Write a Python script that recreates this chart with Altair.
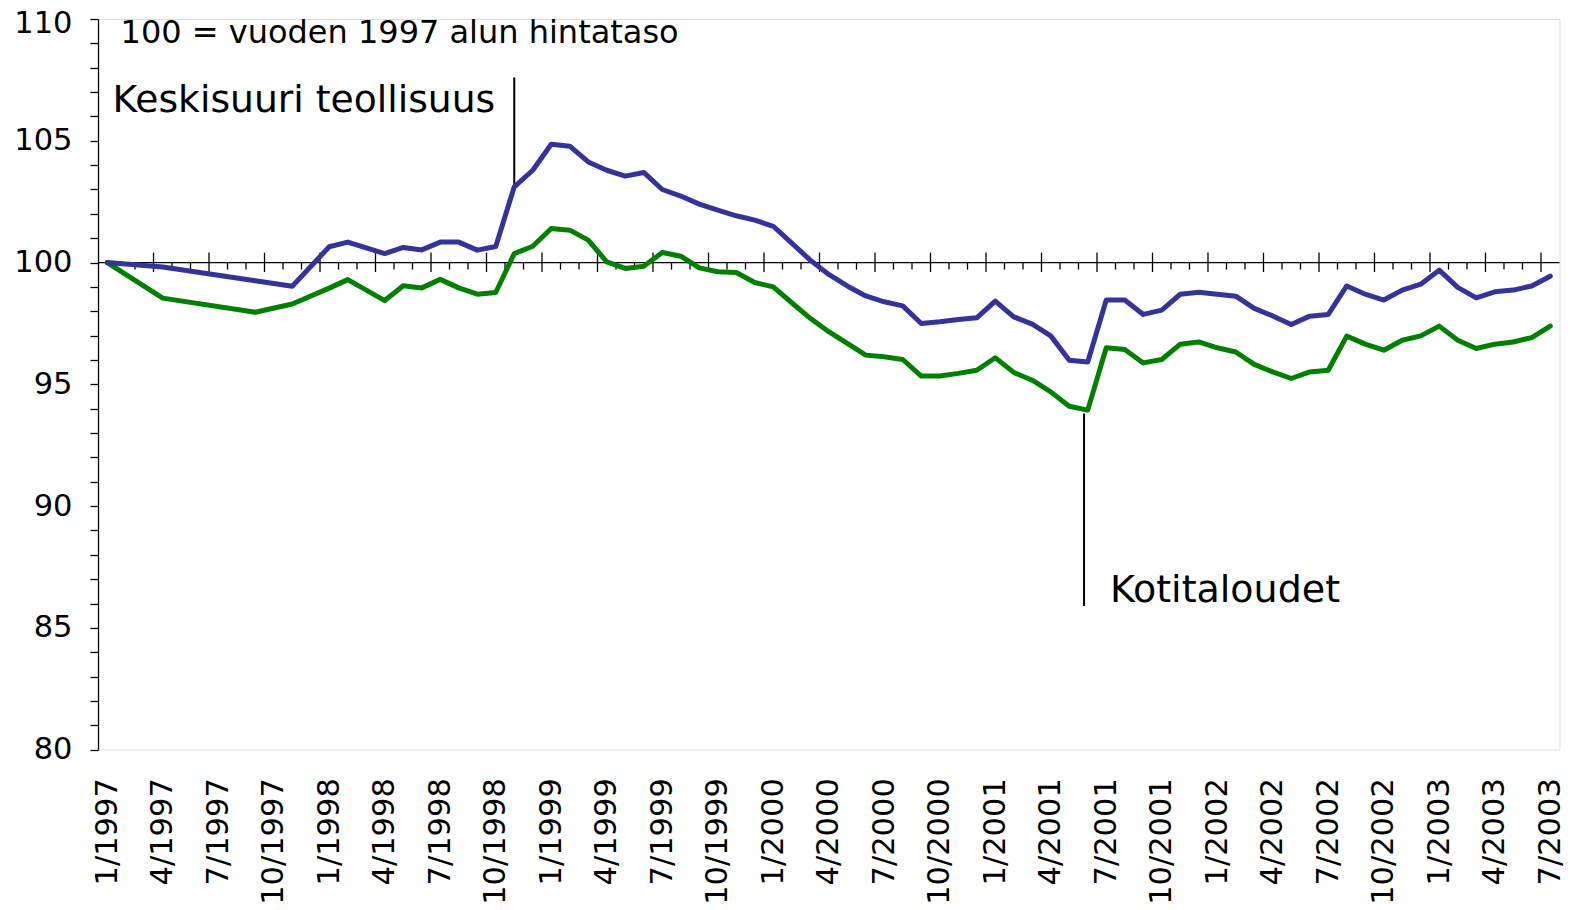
import altair as alt
import pandas as pd

# ---- data ----
point_months = [
    "1/1997", "4/1997", "9/1997", "11/1997", "1/1998", "2/1998",
    "4/1998", "5/1998", "6/1998", "7/1998", "8/1998", "9/1998", "10/1998", "11/1998", "12/1998",
    "1/1999", "2/1999", "3/1999", "4/1999", "5/1999", "6/1999", "7/1999", "8/1999", "9/1999",
    "10/1999", "11/1999", "12/1999",
    "1/2000", "2/2000", "3/2000", "4/2000", "5/2000", "6/2000", "7/2000", "8/2000", "9/2000",
    "10/2000", "11/2000", "12/2000",
    "1/2001", "2/2001", "3/2001", "4/2001", "5/2001", "6/2001", "7/2001", "8/2001", "9/2001",
    "10/2001", "11/2001", "12/2001",
    "1/2002", "2/2002", "3/2002", "4/2002", "5/2002", "6/2002", "7/2002", "8/2002", "9/2002",
    "10/2002", "11/2002", "12/2002",
    "1/2003", "2/2003", "3/2003", "4/2003", "5/2003", "6/2003", "7/2003",
]

teollisuus = [
    100.00, 99.82, 99.25, 99.03, 100.65, 100.84,
    100.37, 100.62, 100.52, 100.84, 100.84, 100.51, 100.66, 103.11, 103.79,
    104.86, 104.78, 104.13, 103.79, 103.55, 103.70, 103.00, 102.73, 102.40,
    102.15, 101.92, 101.74,
    101.49, 100.80, 100.10, 99.51, 99.04, 98.63, 98.39, 98.22, 97.50,
    97.57, 97.66, 97.73,
    98.42, 97.77, 97.47, 96.99, 95.99, 95.92, 98.46, 98.46, 97.87,
    98.05, 98.70, 98.78,
    98.70, 98.62, 98.12, 97.81, 97.46, 97.80, 97.87, 99.04, 98.70,
    98.46, 98.87, 99.11,
    99.69, 98.98, 98.55, 98.80, 98.87, 99.04, 99.44,
]

kotitaloudet = [
    100.00, 98.54, 97.96, 98.30, 98.95, 99.30,
    98.44, 99.05, 98.96, 99.31, 98.96, 98.70, 98.77, 100.37, 100.67,
    101.40, 101.33, 100.92, 100.03, 99.76, 99.85, 100.41, 100.26, 99.78,
    99.62, 99.59, 99.18,
    99.00, 98.35, 97.71, 97.16, 96.68, 96.20, 96.13, 96.02, 95.34,
    95.34, 95.45, 95.58,
    96.09, 95.49, 95.17, 94.69, 94.10, 93.94, 96.50, 96.43, 95.88,
    96.02, 96.65, 96.74,
    96.50, 96.33, 95.82, 95.51, 95.24, 95.51, 95.58, 96.98, 96.65,
    96.40, 96.81, 96.99,
    97.39, 96.81, 96.47, 96.65, 96.74, 96.92, 97.39,
]

tick_labels = [
    "1/1997", "4/1997", "7/1997", "10/1997", "1/1998", "4/1998", "7/1998", "10/1998",
    "1/1999", "4/1999", "7/1999", "10/1999", "1/2000", "4/2000", "7/2000", "10/2000",
    "1/2001", "4/2001", "7/2001", "10/2001", "1/2002", "4/2002", "7/2002", "10/2002",
    "1/2003", "4/2003", "7/2003",
]

# annotations: text, month position, value
note_texts = ["100 = vuoden 1997 alun hintataso", "Keskisuuri teollisuus", "Kotitaloudet"]
note_x = [1.22, 0.78, 54.7]
note_y = [109.0, 106.17, 86.06]
note_size = [32, 37.7, 38]

leader_x = [22.5, 53.3]
leader_y1 = [107.6, 93.8]
leader_y2 = [103.11, 85.9]

FIRST_YEAR = 1997
N_MONTHS = 79
BASE = 100


def month_index(label):
    m, y = label.split("/")
    return (int(y) - FIRST_YEAR) * 12 + (int(m) - 1)


# ---- tables ----
idx = [month_index(m) + 0.5 for m in point_months]
lines_df = pd.DataFrame({
    "x": idx * 2,
    "y": kotitaloudet + teollisuus,
    "sarja": ["Kotitaloudet"] * len(idx) + ["Keskisuuri teollisuus"] * len(idx),
    "order": list(range(len(idx))) * 2,
})

major_df = pd.DataFrame({"x": [month_index(t) for t in tick_labels if month_index(t) > 0],
                         "y": BASE})
major_set = set(major_df["x"])
minor_df = pd.DataFrame({"x": [i for i in range(1, N_MONTHS) if i not in major_set], "y": BASE})
base_df = pd.DataFrame({"x": [0], "x2": [N_MONTHS], "y": [BASE]})
notes_df = pd.DataFrame({"t": note_texts, "x": note_x, "y": note_y, "s": note_size})
leaders_df = pd.DataFrame({"x": leader_x, "y": leader_y1, "y2": leader_y2})

FONT = "DejaVu Sans"
label_js = "[" + ",".join("'" + t + "'" for t in tick_labels) + "]"

xscale = alt.Scale(domain=[0, N_MONTHS], nice=False, zero=False)
yscale = alt.Scale(domain=[80, 110], nice=False, zero=False)

xaxis = alt.Axis(
    values=[month_index(t) + 0.5 for t in tick_labels],
    labelExpr=label_js + "[round((datum.value - 0.5) / 3)]",
    labelAngle=270, labelFont=FONT, labelFontSize=30.5, labelColor="black",
    labelPadding=28, labelOverlap=False, labelFlush=False, labelBound=False,
    ticks=False, tickSize=0, domain=False, grid=False, title=None,
)
yaxis = alt.Axis(
    values=list(range(80, 111)),
    labelExpr="datum.value % 5 == 0 ? datum.label : ''",
    labelFont=FONT, labelFontSize=30.5, labelColor="black", labelPadding=18,
    labelOffset={"condition": {"test": "datum.value >= 110", "value": 5}, "value": 0},
    tickSize=8, tickColor="black", tickWidth=1.3,
    domainColor="black", domainWidth=1.3, grid=False, title=None,
    labelOverlap=False, labelFlush=False,
)

X = alt.X("x:Q", scale=xscale, axis=xaxis)
Y = alt.Y("y:Q", scale=yscale, axis=yaxis)

base_line = alt.Chart(base_df).mark_rule(color="black", strokeWidth=1.3).encode(
    x=X, x2="x2:Q", y=Y)

major_ticks = alt.Chart(major_df).mark_rule(
    color="black", strokeWidth=1.3, yOffset=-10, y2Offset=9.5).encode(
    x=X, y=Y, y2="y:Q")

minor_ticks = alt.Chart(minor_df).mark_rule(
    color="black", strokeWidth=1.3, yOffset=0, y2Offset=7).encode(
    x=X, y=Y, y2="y:Q")

lines = alt.Chart(lines_df).mark_line(
    strokeWidth=5, strokeJoin="round", strokeCap="round").encode(
    x=X, y=Y,
    color=alt.Color("sarja:N",
                    scale=alt.Scale(domain=["Kotitaloudet", "Keskisuuri teollisuus"],
                                    range=["#008000", "#333399"]),
                    legend=None),
    order="order:Q",
)

leaders = alt.Chart(leaders_df).mark_rule(color="black", strokeWidth=2).encode(
    x=X, y=Y, y2="y2:Q")

notes = alt.Chart(notes_df).mark_text(
    align="left", baseline="alphabetic", font=FONT, color="black").encode(
    x=X, y=Y, text="t:N", size=alt.Size("s:Q", scale=None, legend=None))

chart = alt.layer(base_line, major_ticks, minor_ticks, leaders, lines, notes).properties(
    width=1461.5, height=730.7,
    autosize=alt.AutoSizeParams(type="none"),
    padding={"left": 90, "top": 11, "right": 7, "bottom": 156},
).configure_view(stroke=None).configure(background="white")

chart.save("out.html", embed_options={"renderer": "svg", "actions": False})
